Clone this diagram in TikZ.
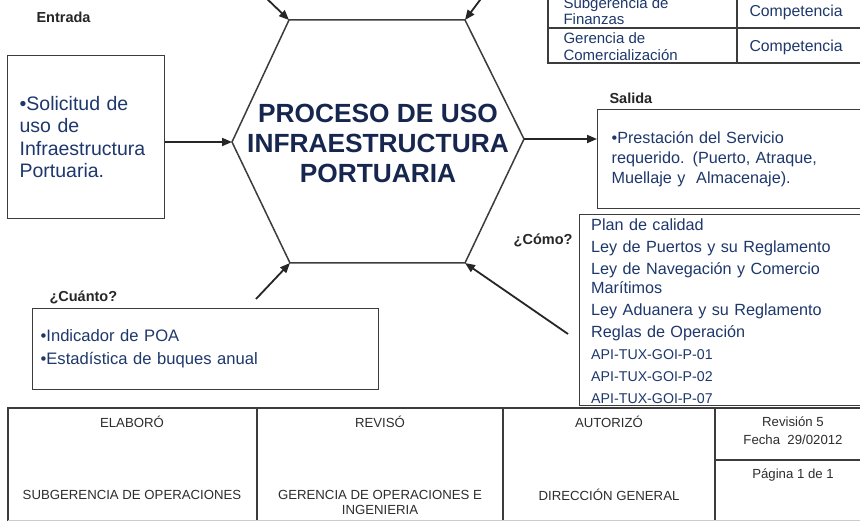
\documentclass[tikz,border=0pt]{standalone}
\usepackage{fontspec}
\setmainfont{Liberation Sans}
\usetikzlibrary{arrows.meta}
\definecolor{txtblue}{RGB}{30,56,108}
\definecolor{navy}{RGB}{22,38,78}
\definecolor{linegray}{RGB}{60,60,60}
\definecolor{foottxt}{RGB}{45,45,45}
\begin{document}
\begin{tikzpicture}[x=1pt,y=-1pt,
  box/.style={draw=linegray,line width=1.2pt,inner sep=0pt},
  lbl/.style={font=\fontsize{14.5}{16}\selectfont\bfseries,text=black!85},
  arr/.style={draw=black!85,line width=1.8pt,-{Triangle[length=10pt,width=8pt]}},
  body/.style={text=txtblue,align=left},
  foot/.style={font=\fontsize{13.2}{15}\selectfont,text=foottxt,align=center},
  rule/.style={draw=linegray,line width=1.3pt}]
\useasboundingbox (0,0) rectangle (860,521);
\fill[white] (0,0) rectangle (860,521);
\clip (0,0) rectangle (860,521);

% hexagon
\coordinate (hL) at (232,142);
\coordinate (hTL) at (289,20);
\coordinate (hTR) at (465,20);
\coordinate (hR) at (524,139);
\coordinate (hBR) at (465,263);
\coordinate (hBL) at (290,263);
\draw[line width=1.5pt,draw=linegray] (hL)--(hTL)--(hTR)--(hR)--(hBR)--(hBL)--cycle;
\node[font=\fontsize{26.3}{30}\selectfont\bfseries,text=navy,align=center] (title) at (378,143) {PROCESO DE USO\\INFRAESTRUCTURA\\PORTUARIA};

% Entrada
\node[lbl,anchor=west] (entradalbl) at (33,17) {Entrada};
\node[box,anchor=north west,minimum height=163pt,text width=133pt,inner xsep=12pt,body,font=\fontsize{19.5}{22.5}\selectfont] (entrada) at (7,55) {•Solicitud de\\uso de\\Infraestructura\\Portuaria.};
\draw[arr] (entrada.east |- hL) -- (hL);

% Salida
\node[lbl,anchor=west] (salidalbl) at (606,98) {Salida};
\node[box,anchor=north west,minimum height=99pt,text width=300pt,inner xsep=14pt,body,font=\fontsize{16.2}{20}\selectfont] (salida) at (597,109) {•Prestación del Servicio\\requerido. (Puerto, Atraque,\\Muellaje y\ \ Almacenaje).};
\draw[arr] (hR) -- (salida.west |- hR);

% Como
\node[lbl,anchor=east] (comolbl) at (576,240) {¿Cómo?};
\node[box,anchor=north west,minimum width=320pt,minimum height=191pt] (comobox) at (579,214) {};
\node[body,anchor=north west,inner sep=0pt,text width=265pt,font=\fontsize{16.2}{22}\selectfont] (comotxt) at (591,219) {Plan de calidad\\Ley de Puertos y su Reglamento\\Ley de Navegación y Comercio\\[-3pt]Marítimos\\Ley Aduanera y su Reglamento\\Reglas de Operación\\\fontsize{14.2}{22}\selectfont API-TUX-GOI-P-01\\API-TUX-GOI-P-02\\API-TUX-GOI-P-07};
\coordinate (comostart) at (568,334);
\draw[arr] (comostart) -- (hBR);

% Cuanto
\node[lbl,anchor=west] (cuantolbl) at (46,297) {¿Cuánto?};
\node[box,anchor=north west,minimum height=81pt,text width=330pt,inner xsep=8pt,body,font=\fontsize{16.6}{23}\selectfont] (cuanto) at (32,308) {•Indicador de POA\\•Estadística de buques anual};
\coordinate (cuantostart) at (256,299);
\draw[arr] (cuantostart) -- (hBL);

% top arrows
\coordinate (topA) at (264,-4);
\draw[arr] (topA) -- (hTL);
\coordinate (topB) at (483,-4);
\draw[arr] (topB) -- (hTR);

% top-right table
\draw[rule] (548,-10) -- (548,63) -- (900,63);
\draw[rule] (548,28) -- (900,28);
\draw[rule] (737,-10) -- (737,63);
\node[body,anchor=west,font=\fontsize{15}{16.5}\selectfont] (fin) at (560,11) {Subgerencia de\\Finanzas};
\node[body,anchor=west,font=\fontsize{15}{16.5}\selectfont] (com) at (560,46.5) {Gerencia de\\Comercialización};
\node[body,anchor=west,font=\fontsize{15.8}{18}\selectfont] (comp1) at (746,12) {Competencia};
\node[body,anchor=west,font=\fontsize{15.8}{18}\selectfont] (comp2) at (746,47) {Competencia};

% footer
\draw[rule] (8,530) -- (8,408) -- (900,408);
\draw[rule] (257,408) -- (257,530);
\draw[rule] (503,408) -- (503,530);
\draw[rule] (715,408) -- (715,530);
\draw[rule] (715,460) -- (900,460);
\draw[black!20,line width=1pt] (8,520) -- (860,520);
\node[foot] (elab) at (132,422) {ELABORÓ};
\node[foot] (rev) at (380,422) {REVISÓ};
\node[foot] (aut) at (609,422) {AUTORIZÓ};
\node[foot] (revn) at (793,422) {Revisión 5};
\node[foot] (fecha) at (793,440) {Fecha\ \ 29/02012};
\node[foot] (pag) at (793,475) {Página 1 de 1};
\node[foot] (subg) at (132,495) {SUBGERENCIA DE OPERACIONES};
\node[foot] (ger) at (380,502.5) {GERENCIA DE OPERACIONES E\\INGENIERIA};
\node[foot] (dir) at (609,495) {DIRECCIÓN GENERAL};
\end{tikzpicture}
\end{document}
